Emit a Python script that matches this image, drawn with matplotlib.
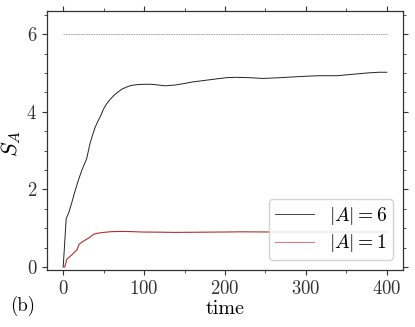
import matplotlib
matplotlib.use("Agg")
import matplotlib.pyplot as plt
from matplotlib.ticker import MultipleLocator

plt.rcParams['font.family'] = 'serif'
plt.rcParams['font.serif'] = ['cmr10', 'DejaVu Serif']
plt.rcParams['mathtext.fontset'] = 'cm'
plt.rcParams['axes.formatter.use_mathtext'] = True

# data
t6 = [0, 3.7, 6.6, 10.5, 14.8, 19, 23, 26, 29, 33, 36, 39.5, 42.5, 45.7, 49.8, 53.5, 58, 63, 68.3,
      73, 78.6, 84, 91, 100, 109.5, 118, 126, 138, 150, 160, 175, 190, 202, 214, 230, 247,
      268, 293, 315, 338, 354, 375, 390, 400]
s6 = [0, 1.25, 1.38, 1.65, 1.97, 2.25, 2.49, 2.64, 2.79, 3.17, 3.38, 3.6, 3.74, 3.87, 4.07, 4.2,
      4.32, 4.43, 4.52, 4.59, 4.64, 4.68, 4.7, 4.71, 4.71, 4.69, 4.67, 4.69, 4.73, 4.77, 4.81,
      4.85, 4.88, 4.89, 4.88, 4.86, 4.88, 4.91, 4.93, 4.93, 4.96, 5.0, 5.02, 5.02]
t1 = [0, 2, 4.5, 10.7, 17, 19.8, 27, 32, 37.4, 43, 50, 60, 72, 85, 97, 120, 138, 170, 200,
      220, 260, 300, 350, 400]
s1 = [0, 0, 0.2, 0.31, 0.44, 0.59, 0.69, 0.75, 0.84, 0.87, 0.89, 0.91, 0.915, 0.91, 0.9,
      0.895, 0.89, 0.895, 0.9, 0.905, 0.9, 0.9, 0.9, 0.9]
max_t = [0, 400]
max_s = [6, 6]
labels = [r'$|A| = 6$', r'$|A| = 1$']

fig = plt.figure(figsize=(4.15, 3.27), dpi=100)
ax = fig.add_axes([0.1133, 0.1743, 0.8577, 0.7921])

ax.plot(max_t, max_s, color='#999999', lw=0.6, ls=(0, (2, 1)))
ax.plot(t6, s6, color='#222222', lw=0.7, label=labels[0])
ax.plot(t1, s1, color='#b03030', lw=0.8, label=labels[1])

ax.set_xlim(-20, 420)
ax.set_ylim(-0.08, 6.6)
ax.xaxis.set_major_locator(MultipleLocator(100))
ax.xaxis.set_minor_locator(MultipleLocator(50))
ax.yaxis.set_major_locator(MultipleLocator(2))
ax.yaxis.set_minor_locator(MultipleLocator(0.5))
ax.tick_params(which='both', direction='out', top=True, right=True, labelsize=13.5, colors='#333333')
ax.tick_params(which='major', length=3.5, width=0.8)
ax.tick_params(which='minor', length=2, width=0.6)
for sp in ax.spines.values():
    sp.set_color('#333333')
    sp.set_linewidth(0.9)

ax.set_xlabel('time', fontsize=14.5, labelpad=2)
fig.text(11 / 415, 1 - 144 / 327, r'$S_A$', fontsize=16, rotation=90, ha='center', va='center')
fig.text(0.055, 0.065, '(b)', fontsize=13.5, ha='center', va='center')

leg = ax.legend(loc='lower right', fontsize=14, frameon=True, fancybox=True,
                edgecolor='#cccccc', framealpha=0.85, handlelength=2.0,
                labelspacing=0.3, borderpad=0.3)
leg.get_lines()[0].set_color('#444444')
leg.get_lines()[1].set_color('#cc8080')

fig.savefig('out.png', dpi=100)
